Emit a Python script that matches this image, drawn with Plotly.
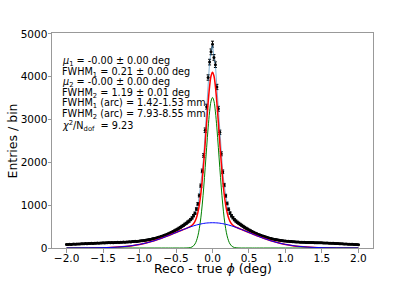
import numpy as np
import plotly.graph_objects as go

# ---- histogram data (bin centres -2.00 ... 2.00, step 0.02) ----
counts_left = [84, 80, 86, 83, 88, 91, 87, 93, 95, 92,
               98, 100, 97, 103, 101, 106, 104, 109, 107, 112,
               110, 115, 113, 118, 116, 121, 119, 124, 121, 126,
               123, 128, 125, 130, 127, 132, 130, 135, 133, 138,
               135, 141, 139, 145, 143, 149, 150, 155, 154, 160,
               162, 168, 170, 177, 180, 187, 192, 199, 205, 214,
               220, 230, 238, 249, 258, 271, 281, 295, 306, 322,
               334, 351, 366, 385, 401, 422, 440, 463, 482, 507,
               528, 555, 577, 606, 628, 664, 703, 755, 812, 910,
               1030, 1225, 1455, 1800, 2160, 2750, 3300, 3980, 4340, 4580]
count_centre = [4760]
counts_right = [4450, 4280, 3760, 3250, 2700, 2200, 1780, 1470, 1220, 1040,
                905, 815, 752, 705, 662, 630, 602, 578, 553, 530,
                506, 483, 462, 441, 421, 403, 384, 368, 350, 336,
                321, 307, 296, 283, 272, 261, 249, 240, 230, 222,
                213, 206, 199, 194, 186, 181, 176, 171, 166, 163,
                160, 157, 153, 151, 148, 146, 143, 141, 140, 137,
                136, 134, 133, 131, 130, 129, 128, 127, 126, 125,
                124, 123, 122, 121, 120, 119, 117, 116, 114, 113,
                111, 110, 108, 106, 104, 103, 101, 99, 97, 96,
                94, 92, 90, 88, 87, 85, 83, 81, 80, 78]
counts = counts_left + count_centre + counts_right
bin_centres = np.round(np.linspace(-2.0, 2.0, len(counts)), 2)
count_errors = np.sqrt(counts)

# ---- fit curves (symmetric about 0), values at |x| ----
fit_x_pos = [0.02, 0.04, 0.06, 0.08, 0.10, 0.12, 0.14, 0.16, 0.18, 0.20,
             0.22, 0.24, 0.26, 0.28, 0.30, 0.35, 0.40, 0.45, 0.50, 0.55,
             0.6, 0.7, 0.8, 0.9, 1.0, 1.1, 1.2, 1.3, 1.4, 1.5,
             1.6, 1.7, 1.8, 1.9, 2.0]
narrow_centre = 3515
narrow_pos = [3428, 3179, 2804, 2351, 1875, 1422, 1026, 703, 459, 285,
              168, 94, 50, 25, 12, 1.6, 0, 0, 0, 0,
              0, 0, 0, 0, 0, 0, 0, 0, 0, 0,
              0, 0, 0, 0, 0]
wide_centre = 590
wide_pos = [589.5, 588, 586, 583, 579, 574, 568, 561, 554, 546,
            537, 527, 517, 506, 495, 464, 431, 397, 362, 326,
            292, 226, 169, 121, 83, 55, 35, 22, 13, 7,
            4, 2, 1, 0.5, 0.2]
total_centre = 4105
total_pos = [4017.5, 3767, 3390, 2934, 2454, 1996, 1594, 1264, 1013, 831,
             705, 621, 567, 531, 507, 465.6, 431, 397, 362, 326,
             292, 226, 169, 121, 83, 55, 35, 22, 13, 7,
             4, 2, 1, 0.5, 0.2]

info_lines = [
    "<i>μ</i><sub>1</sub> = -0.00 ± 0.00 deg",
    "FWHM<sub>1</sub> = 0.21 ± 0.00 deg",
    "<i>μ</i><sub>2</sub> = -0.00 ± 0.00 deg",
    "FWHM<sub>2</sub> = 1.19 ± 0.01 deg",
    "FWHM<sub>1</sub> (arc) = 1.42-1.53 mm",
    "FWHM<sub>2</sub> (arc) = 7.93-8.55 mm",
    "<i>χ</i><sup>2</sup>/N<sub>dof</sub>  = 9.23",
]
info_y = [0.8665, 0.817, 0.769, 0.7195, 0.673, 0.622, 0.566]
x_title = "Reco - true <i>ϕ</i> (deg)"
y_title = "Entries / bin"


def mirror(xs, centre, ys):
    return ([-v for v in xs[::-1]] + [0.0] + list(xs),
            list(ys[::-1]) + [centre] + list(ys))


fx, f_total = mirror(fit_x_pos, total_centre, total_pos)
_, f_narrow = mirror(fit_x_pos, narrow_centre, narrow_pos)
_, f_wide = mirror(fit_x_pos, wide_centre, wide_pos)

FONT = "DejaVu Sans"
fig = go.Figure()
fig.add_trace(go.Scatter(
    x=bin_centres, y=counts, mode="lines+markers",
    line=dict(color="rgba(31,119,180,0.55)", width=1),
    marker=dict(color="black", size=3),
    error_y=dict(type="data", array=count_errors, color="black", thickness=1, width=1.5),
    showlegend=False))
fig.add_trace(go.Scatter(x=fx, y=f_total, mode="lines", line=dict(color="red", width=1.5, shape="spline"), showlegend=False))
fig.add_trace(go.Scatter(x=fx, y=f_narrow, mode="lines", line=dict(color="green", width=1, shape="spline"), showlegend=False))
fig.add_trace(go.Scatter(x=fx, y=f_wide, mode="lines", line=dict(color="blue", width=1, shape="spline"), showlegend=False))

for txt, yy in zip(info_lines, info_y):
    fig.add_annotation(text=txt, xref="paper", yref="paper", x=0.026, y=yy,
                       xanchor="left", yanchor="middle", showarrow=False,
                       font=dict(family=FONT, size=9.7, color="black"))

# axis titles
fig.add_annotation(text=x_title, xref="paper", yref="paper", x=0.5, y=-0.097,
                   xanchor="center", yanchor="middle", showarrow=False,
                   font=dict(family=FONT, size=12.5, color="black"))
fig.add_annotation(text=y_title, xref="paper", yref="paper", x=-0.1215, y=0.5,
                   xanchor="center", yanchor="middle", textangle=-90, showarrow=False,
                   font=dict(family=FONT, size=12.5, color="black"))

axis_common = dict(showline=True, mirror=True, linecolor="#999999", linewidth=1,
                   ticks="outside", ticklen=3.5, tickcolor="#999999", tickwidth=1,
                   showgrid=False, zeroline=False, automargin=False,
                   tickfont=dict(family=FONT, size=10.5, color="black"))
fig.update_xaxes(range=[-2.2, 2.2], tick0=0, dtick=0.5, tickformat=".1f",
                 ticklabelstandoff=-3, **axis_common)
fig.update_yaxes(range=[0, 5020], tick0=0, dtick=1000,
                 ticklabelstandoff=-2, **axis_common)
fig.update_layout(width=415, height=283, margin=dict(l=52, r=42, t=33, b=35),
                  plot_bgcolor="white", paper_bgcolor="white",
                  font=dict(family=FONT))
fig.write_html("out.html", config={"displayModeBar": False},
               post_script="document.body.style.margin='0';document.body.style.overflow='hidden';")
